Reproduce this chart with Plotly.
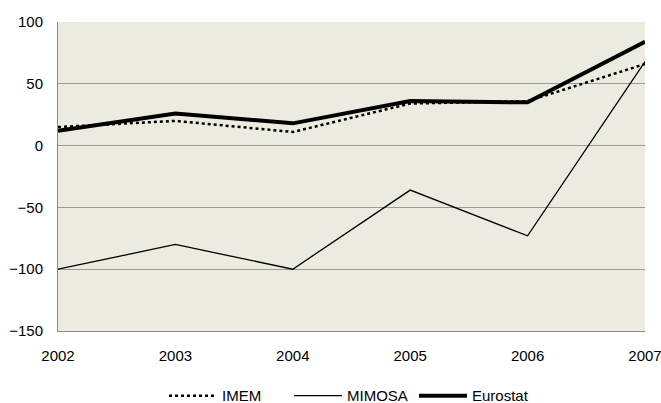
import plotly.graph_objects as go

years = [2002, 2003, 2004, 2005, 2006, 2007]
imem = [15, 20, 11, 34, 36, 66]
mimosa = [-100, -80, -100, -36, -73, 68]
eurostat = [12, 26, 18, 36, 35, 84]
y_ticks = [100, 50, 0, -50, -100, -150]

fig = go.Figure()
fig.add_trace(go.Scatter(x=years, y=imem, name="IMEM", mode="lines",
                         line=dict(color="black", width=2.5, dash="dot")))
fig.add_trace(go.Scatter(x=years, y=mimosa, name="MIMOSA", mode="lines",
                         line=dict(color="black", width=1.3)))
fig.add_trace(go.Scatter(x=years, y=eurostat, name="Eurostat", mode="lines",
                         line=dict(color="black", width=4)))

fig.update_layout(
    width=661, height=403,
    margin=dict(l=58, r=16, t=22, b=72, autoexpand=False),
    paper_bgcolor="white",
    plot_bgcolor="#EDEBE0",
    font=dict(family="Liberation Sans, Arial, sans-serif", size=15, color="black"),
    showlegend=True,
    legend=dict(orientation="h", x=0.5, xanchor="center", y=-0.21, yanchor="middle",
                font=dict(size=15), traceorder="normal", itemwidth=48,
                entrywidth=62, bgcolor="rgba(0,0,0,0)"),
    xaxis=dict(range=[2002, 2007], tickvals=years, ticktext=[str(y) for y in years],
               showgrid=False, zeroline=False, showline=True, linecolor="#8c8c8c",
               linewidth=1, ticks="", ticklabelstandoff=11, automargin=False,
               ticklabeloverflow="allow"),
    yaxis=dict(range=[-150, 100], tickvals=y_ticks, showgrid=True,
               gridcolor="#9a9a9a", gridwidth=1, zeroline=False, showline=True,
               linecolor="#8c8c8c", linewidth=1, ticks="", ticklabelstandoff=11,
               automargin=False),
)
fig.write_html("out.html", config={"displayModeBar": False},
               post_script="document.body.style.margin='0';document.body.style.overflow='hidden';")
